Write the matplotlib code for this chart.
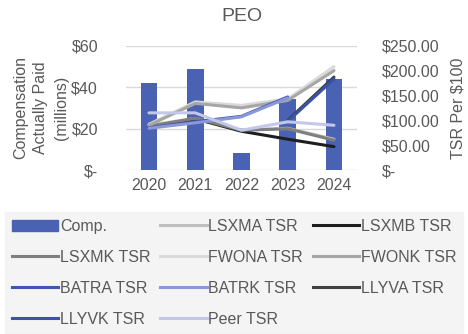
import numpy as np
import matplotlib
matplotlib.use("Agg")
import matplotlib.pyplot as plt
from matplotlib.patches import Patch
from matplotlib.lines import Line2D

plt.rcParams['font.family'] = ['Liberation Sans', 'DejaVu Sans']

# data
years = ["2020", "2021", "2022", "2023", "2024"]
comp = [41.9, 48.6, 8.2, 34.3, 43.9]   # $ millions

nan = np.nan
lsxma = [90, 104, 80, 84, 62]
lsxmb = [87, 103, 78, 62, 47]
lsxmk = [88, 104, 80, 83, 60]
fwona = [92, 137, 130, 143, 208]
fwonk = [90, 134, 125, 140, 200]
batra = [85, 97, 108, 147, nan]
batrk = [84, 95, 107, 145, nan]
llyva = [nan, nan, nan, 100, 187]
llyvk = [nan, nan, nan, 98, 183]
peer = [115, 115, 80, 97, 90]

left_ticks = [0, 20, 40, 60]
left_labels = ["$-", "$20", "$40", "$60"]
right_ticks = [0, 50, 100, 150, 200, 250]
right_labels = ["$-", "$50.00", "$100.00", "$150.00", "$200.00", "$250.00"]

txt = "#595959"
bar_col = "#4a62b4"

# name, values, colour
series = [
    ("LSXMA TSR", lsxma, "#bfbfbf"),
    ("LSXMB TSR", lsxmb, "#1e1e1e"),
    ("LSXMK TSR", lsxmk, "#7f7f7f"),
    ("FWONA TSR", fwona, "#d9d9d9"),
    ("FWONK TSR", fwonk, "#a6a6a6"),
    ("BATRA TSR", batra, "#3f56b0"),
    ("BATRK TSR", batrk, "#8c97d9"),
    ("LLYVA TSR", llyva, "#404040"),
    ("LLYVK TSR", llyvk, "#3a52a8"),
    ("Peer TSR", peer, "#c3c8ea"),
]

fig = plt.figure(figsize=(4.68, 3.34), dpi=100)
ax = fig.add_axes([0.269, 0.491, 0.494, 0.372])
x = np.arange(len(years))

ax.bar(x, comp, width=0.36, color=bar_col, zorder=2)
ax.set_ylim(0, 60)
ax.set_xlim(-0.5, 4.5)
ax.set_yticks(left_ticks)
ax.set_yticklabels(left_labels)
ax.set_xticks(x)
ax.set_xticklabels(years)
ax.grid(axis="y", color="#d9d9d9", lw=1, zorder=0)
ax.set_axisbelow(True)
for s in ax.spines.values():
    s.set_visible(False)
ax.tick_params(length=0, colors=txt, labelsize=11.5, pad=6)
ax.tick_params(axis="y", pad=20)
ax.set_ylabel("Compensation\nActually Paid\n(millions)", color=txt, fontsize=11.5,
              linespacing=1.45, labelpad=2)
ax.set_title("PEO", color=txt, fontsize=14, pad=18)

ax2 = ax.twinx()
ax2.set_ylim(0, 250)
ax2.set_yticks(right_ticks)
ax2.set_yticklabels(right_labels)
for s in ax2.spines.values():
    s.set_visible(False)
ax2.tick_params(length=0, colors=txt, labelsize=11.5, pad=18)
ax2.set_ylabel("TSR Per $100", color=txt, fontsize=11.5, labelpad=8)

for name, vals, col in series:
    ax2.plot(x, vals, color=col, lw=2.2, solid_capstyle="round", zorder=3)

# legend, laid out row by row like the original
h = {name: Line2D([], [], color=col, lw=2.2) for name, _, col in series}
h["Comp."] = Patch(color=bar_col)
blank = Line2D([], [], color="none")
order = ["Comp.", "LSXMK TSR", "BATRA TSR", "LLYVK TSR",
         "LSXMA TSR", "FWONA TSR", "BATRK TSR", "Peer TSR",
         "LSXMB TSR", "FWONK TSR", "LLYVA TSR", ""]
handles = [h.get(n, blank) for n in order]
leg = fig.legend(handles, order, loc="lower left", ncol=3,
                 bbox_to_anchor=(0.01, 0.0, 0.98, 0.365), mode="expand",
                 frameon=True, fontsize=11.5, handlelength=2.9, handletextpad=0.1,
                 columnspacing=0.3, labelspacing=1.0, borderaxespad=0.0,
                 borderpad=0.45, fancybox=False)
leg.get_frame().set_facecolor("#f2f2f2")
leg.get_frame().set_edgecolor("#f2f2f2")
for t in leg.get_texts():
    t.set_color(txt)

fig.savefig("out.png", dpi=100)
